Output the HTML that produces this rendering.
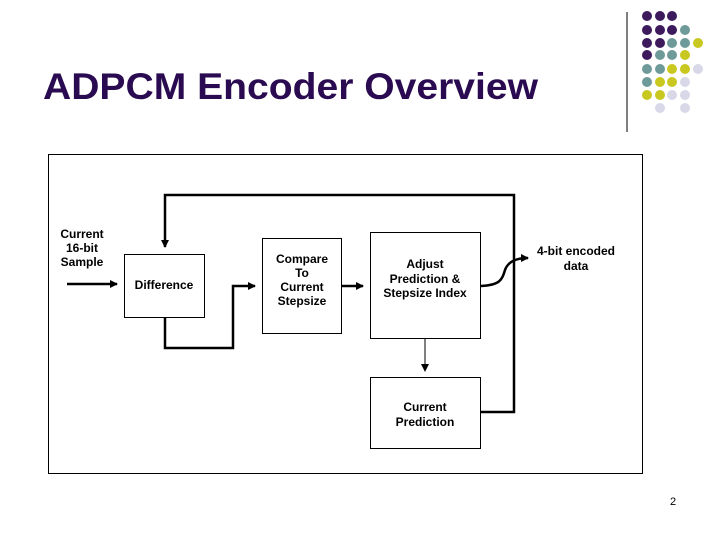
<!DOCTYPE html>
<html><head><style>
body{margin:0;background:#fff;}
svg{display:block;font-family:"Liberation Sans",sans-serif;}
</style></head><body>
<svg width="720" height="540" viewBox="0 0 720 540">
<defs><marker id="a" markerWidth="8" markerHeight="8" refX="7" refY="4" orient="auto" markerUnits="userSpaceOnUse"><path d="M0,0 L8,4 L0,8z" fill="#000"/></marker></defs>
<text x="43" y="99" font-size="37" font-weight="bold" fill="#2a0a50" textLength="495" lengthAdjust="spacingAndGlyphs">ADPCM Encoder Overview</text>
<line x1="627" y1="12" x2="627" y2="132" stroke="#000" stroke-width="1"/>
<g>
<circle cx="647" cy="16" r="5" fill="#3d1a5c"/><circle cx="660" cy="16" r="5" fill="#3d1a5c"/><circle cx="672" cy="16" r="5" fill="#3d1a5c"/>
<circle cx="647" cy="30" r="5" fill="#3d1a5c"/><circle cx="660" cy="30" r="5" fill="#3d1a5c"/><circle cx="672" cy="30" r="5" fill="#3d1a5c"/><circle cx="685" cy="30" r="5" fill="#6f9a9a"/>
<circle cx="647" cy="43" r="5" fill="#3d1a5c"/><circle cx="660" cy="43" r="5" fill="#3d1a5c"/><circle cx="672" cy="43" r="5" fill="#6f9a9a"/><circle cx="685" cy="43" r="5" fill="#6f9a9a"/><circle cx="698" cy="43" r="5" fill="#c8c820"/>
<circle cx="647" cy="55" r="5" fill="#3d1a5c"/><circle cx="660" cy="55" r="5" fill="#6f9a9a"/><circle cx="672" cy="55" r="5" fill="#6f9a9a"/><circle cx="685" cy="55" r="5" fill="#c8c820"/>
<circle cx="647" cy="69" r="5" fill="#6f9a9a"/><circle cx="660" cy="69" r="5" fill="#6f9a9a"/><circle cx="672" cy="69" r="5" fill="#c8c820"/><circle cx="685" cy="69" r="5" fill="#c8c820"/><circle cx="698" cy="69" r="5" fill="#d8d8e8"/>
<circle cx="647" cy="82" r="5" fill="#6f9a9a"/><circle cx="660" cy="82" r="5" fill="#c8c820"/><circle cx="672" cy="82" r="5" fill="#c8c820"/><circle cx="685" cy="82" r="5" fill="#d8d8e8"/>
<circle cx="647" cy="95" r="5" fill="#c8c820"/><circle cx="660" cy="95" r="5" fill="#c8c820"/><circle cx="672" cy="95" r="5" fill="#d8d8e8"/><circle cx="685" cy="95" r="5" fill="#d8d8e8"/>
<circle cx="660" cy="108" r="5" fill="#d8d8e8"/><circle cx="685" cy="108" r="5" fill="#d8d8e8"/>
</g>
<rect x="48.5" y="154.5" width="594" height="319" fill="none" stroke="#000" stroke-width="1"/>
<g fill="#fff" stroke="#000" stroke-width="1">
<rect x="124.5" y="254.5" width="80" height="63"/>
<rect x="262.5" y="238.5" width="79" height="95"/>
<rect x="370.5" y="232.5" width="110" height="106"/>
<rect x="370.5" y="377.5" width="110" height="71"/>
</g>
<g fill="none" stroke="#000" stroke-width="2.5">
<polyline points="480,412 514,412 514,195 165,195 165,247" marker-end="url(#a)"/>
<line x1="67" y1="284" x2="117" y2="284" marker-end="url(#a)"/>
<polyline points="165,317 165,348 233,348 233,286 255,286" marker-end="url(#a)"/>
<line x1="341" y1="286" x2="363" y2="286" marker-end="url(#a)"/>
<path d="M481,286 C500,285 502,280 505,270 C508,262 515,258 528,258" marker-end="url(#a)"/>
</g>
<line x1="425" y1="338" x2="425" y2="371" stroke="#000" stroke-width="1" marker-end="url(#a)"/>
<g font-size="12" font-weight="bold" text-anchor="middle" fill="#000">
<text x="82" y="238">Current</text><text x="82" y="252">16-bit</text><text x="82" y="266">Sample</text>
<text x="164" y="289">Difference</text>
<text x="302" y="263">Compare</text><text x="302" y="277">To</text><text x="302" y="291">Current</text><text x="302" y="305">Stepsize</text>
<text x="425" y="268">Adjust</text><text x="425" y="283">Prediction &amp;</text><text x="425" y="297">Stepsize Index</text>
<text x="425" y="411">Current</text><text x="425" y="426">Prediction</text>
<text x="576" y="255">4-bit encoded</text><text x="576" y="270">data</text>
</g>
<text x="673" y="505" font-size="11" text-anchor="middle">2</text>
</svg>
</body></html>
